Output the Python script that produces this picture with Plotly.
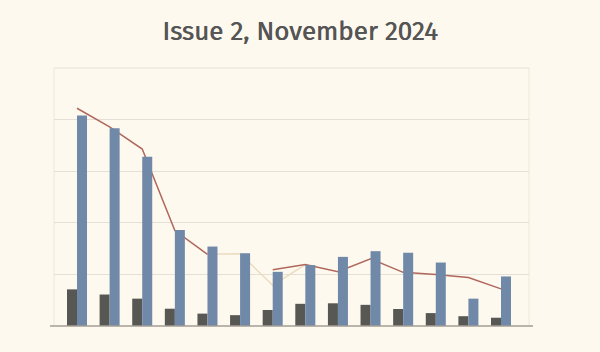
import plotly.graph_objects as go

categories = ["G1", "G2", "G3", "G4", "G5", "G6", "G7",
              "G8", "G9", "G10", "G11", "G12", "G13", "G14"]
dark_values = [7.1, 6.1, 5.3, 3.35, 2.4, 2.1, 3.1, 4.3, 4.4, 4.1, 3.3, 2.5, 1.9, 1.6]
blue_values = [40.8, 38.3, 32.8, 18.6, 15.4, 14.1, 10.5, 11.8, 13.4, 14.5, 14.2, 12.3, 5.3, 9.6]
red_line = [42.2, 38.6, 34.3, 18.5, 13.9, None, 10.9, 11.9, 10.5, 13.0, 10.4, 10.0, 9.4, 7.2]
beige_line = [None, None, None, None, 13.9, 14.0, 7.9, 11.9, None, None, None, None, None, None]

BG = "#fef9ef"
GRID = "#e5e0d7"
xr = [-0.705, 13.858]
yr = [0, 50]

fig = go.Figure()
# lines on base axes (drawn below bars)
fig.add_trace(go.Scatter(x=categories, y=beige_line, mode="lines",
                         line=dict(color="#ecdcc0", width=1.5),
                         connectgaps=False, xaxis="x", yaxis="y", hoverinfo="skip"))
fig.add_trace(go.Scatter(x=categories, y=red_line, mode="lines",
                         line=dict(color="#b0675c", width=1.5),
                         connectgaps=False, xaxis="x", yaxis="y"))
# bars on overlay axes (drawn above lines)
fig.add_trace(go.Bar(x=categories, y=dark_values, marker=dict(color="#575753", line=dict(width=0)),
                     width=0.307, offset=-0.307, xaxis="x2", yaxis="y2"))
fig.add_trace(go.Bar(x=categories, y=blue_values, marker=dict(color="#7189a8", line=dict(width=0)),
                     width=0.307, offset=0.0, xaxis="x2", yaxis="y2"))

fig.update_layout(
    width=600, height=352,
    margin=dict(l=54, r=71, t=68, b=26),
    paper_bgcolor=BG, plot_bgcolor=BG,
    showlegend=False,
    title=dict(text="Issue 2, November 2024", x=0.5, xanchor="center",
               y=1 - 31 / 352, yanchor="middle", yref="container",
               font=dict(family="Fira Sans, Lato, sans-serif", size=26, color="#555555",
                         weight=400, shadow="0.5px 0 0 #555555")),
    xaxis=dict(type="category", range=xr, showgrid=False, showticklabels=False,
               ticks="", zeroline=False, showline=False),
    yaxis=dict(range=yr, tick0=0, dtick=10, showgrid=True, gridcolor=GRID, gridwidth=1,
               showticklabels=False, ticks="", zeroline=False, showline=False),
    xaxis2=dict(type="category", range=xr, overlaying="x", matches="x", visible=False),
    yaxis2=dict(range=yr, overlaying="y", visible=False, showgrid=False),
    shapes=[
        dict(type="line", xref="paper", yref="paper", x0=0, x1=0, y0=0, y1=1,
             line=dict(color="#f1e8d6", width=1), layer="below"),
        dict(type="line", xref="paper", yref="paper", x0=1, x1=1, y0=0, y1=1,
             line=dict(color="#f1e8d6", width=1), layer="below"),
        dict(type="line", xref="paper", yref="paper", x0=0, x1=1, y0=1, y1=1,
             line=dict(color=GRID, width=1), layer="below"),
        dict(type="line", xref="paper", yref="paper", x0=-4 / 475, x1=1 + 4 / 475, y0=0, y1=0,
             line=dict(color="#a39d94", width=1.5), layer="above"),
    ],
)

fig.write_html("out.html")
